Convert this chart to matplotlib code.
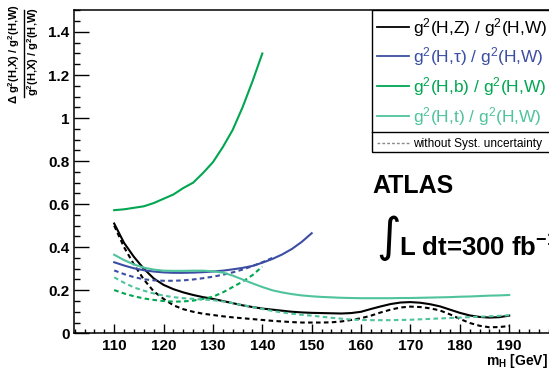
import matplotlib
matplotlib.use('Agg')
import matplotlib.pyplot as plt
from matplotlib.lines import Line2D
from matplotlib.patches import Rectangle
from matplotlib.ticker import MultipleLocator, FormatStrFormatter

plt.rcParams['font.family'] = ['Liberation Sans', 'DejaVu Sans']
plt.rcParams['mathtext.fontset'] = 'custom'
plt.rcParams['mathtext.rm'] = 'Liberation Sans'
plt.rcParams['mathtext.bf'] = 'Liberation Sans:bold'
plt.rcParams['mathtext.it'] = 'Liberation Sans:italic'

# mass points (GeV)
m_full = list(range(110, 191, 2))
m_tau = list(range(110, 151, 2))
m_tau_ns = list(range(110, 143, 2))
m_b = list(range(110, 141, 2))

# g2(H,Z)/g2(H,W)
hz = [0.51, 0.42, 0.355, 0.30, 0.255, 0.225, 0.205, 0.19, 0.178, 0.168,
      0.16, 0.15, 0.14, 0.13, 0.122, 0.115, 0.11, 0.105, 0.10, 0.097,
      0.095, 0.094, 0.093, 0.092, 0.094, 0.10, 0.113, 0.125, 0.136, 0.143,
      0.145, 0.142, 0.135, 0.125, 0.11, 0.095, 0.083, 0.076, 0.073, 0.075, 0.082]
hz_ns = [0.50, 0.40, 0.32, 0.25, 0.195, 0.16, 0.13, 0.112, 0.10, 0.091,
         0.085, 0.079, 0.074, 0.07, 0.066, 0.062, 0.058, 0.055, 0.052, 0.05,
         0.05, 0.05, 0.051, 0.055, 0.062, 0.07, 0.082, 0.097, 0.11, 0.12,
         0.124, 0.122, 0.116, 0.106, 0.088, 0.067, 0.048, 0.035, 0.028, 0.029, 0.034]

# g2(H,tau)/g2(H,W)
htau = [0.33, 0.315, 0.302, 0.293, 0.287, 0.283, 0.281, 0.281, 0.282, 0.284,
        0.287, 0.291, 0.297, 0.304, 0.313, 0.328, 0.345, 0.366, 0.392, 0.425, 0.465]
htau_ns = [0.292, 0.275, 0.261, 0.251, 0.246, 0.244, 0.244, 0.246, 0.25, 0.256,
           0.263, 0.272, 0.283, 0.296, 0.312, 0.33, 0.35]

# g2(H,b)/g2(H,W)
hb = [0.572, 0.576, 0.583, 0.59, 0.605, 0.625, 0.645, 0.675, 0.70, 0.745,
      0.795, 0.865, 0.945, 1.05, 1.17, 1.30]
hb_ns = [0.201, 0.185, 0.172, 0.162, 0.155, 0.15, 0.147, 0.148, 0.152, 0.16,
         0.17, 0.19, 0.215, 0.24, 0.27, 0.31]

# g2(H,t)/g2(H,W)
ht = [0.365, 0.34, 0.32, 0.305, 0.296, 0.291, 0.29, 0.29, 0.291, 0.291,
      0.288, 0.282, 0.268, 0.25, 0.232, 0.215, 0.2, 0.19, 0.182, 0.176,
      0.172, 0.169, 0.167, 0.165, 0.164, 0.163, 0.163, 0.163, 0.163, 0.164,
      0.164, 0.165, 0.166, 0.167, 0.168, 0.17, 0.171, 0.173, 0.175, 0.176, 0.178]
ht_ns = [0.26, 0.235, 0.213, 0.198, 0.185, 0.175, 0.168, 0.163, 0.16, 0.157,
         0.154, 0.148, 0.14, 0.131, 0.122, 0.113, 0.104, 0.097, 0.091, 0.086,
         0.082, 0.077, 0.072, 0.068, 0.064, 0.062, 0.061, 0.061, 0.061, 0.062,
         0.063, 0.065, 0.067, 0.069, 0.071, 0.073, 0.075, 0.077, 0.079, 0.081, 0.084]

c_z = '#000000'
c_tau = '#3b4ea3'
c_b = '#00a650'
c_t = '#4ec39c'

W, H = 549, 369
fig = plt.figure(figsize=(W / 100, H / 100), dpi=100)
ax = fig.add_axes([73.7 / W, 1 - 333.3 / H, 1 - 73.7 / W, (333.3 - 10) / H])

lw = 1.5
dash = (0, (2.2, 1.6))
ax.plot(m_full, hz, color=c_z, lw=lw)
ax.plot(m_full, hz_ns, color=c_z, lw=lw, ls=dash)
ax.plot(m_tau, htau, color=c_tau, lw=lw)
ax.plot(m_tau_ns, htau_ns, color=c_tau, lw=lw, ls=dash)
ax.plot(m_b, hb, color=c_b, lw=lw)
ax.plot(m_b, hb_ns, color=c_b, lw=lw, ls=dash)
ax.plot(m_full, ht, color=c_t, lw=lw)
ax.plot(m_full, ht_ns, color=c_t, lw=lw, ls=dash)

ax.set_xlim(101.8, 198.06)
ax.set_ylim(0, 1.502)
ax.xaxis.set_major_locator(MultipleLocator(10))
ax.xaxis.set_minor_locator(MultipleLocator(2))
ax.yaxis.set_major_locator(MultipleLocator(0.2))
ax.yaxis.set_minor_locator(MultipleLocator(0.05))
ax.yaxis.set_major_formatter(FormatStrFormatter('%g'))
ax.set_xticks([110, 120, 130, 140, 150, 160, 170, 180, 190])
ax.tick_params(axis='both', which='both', direction='in', width=1.0,
               labelsize=11, top=False, right=False)
ax.tick_params(axis='x', which='major', length=6.5, pad=3.8)
ax.tick_params(axis='x', which='minor', length=3.2)
ax.tick_params(axis='y', which='major', length=10.5, pad=3)
ax.tick_params(axis='y', which='minor', length=4.5)
for lab in ax.get_xticklabels() + ax.get_yticklabels():
    lab.set_fontweight('bold')
for s in ['left', 'bottom', 'top']:
    ax.spines[s].set_linewidth(1.1)
ax.spines['right'].set_visible(False)

def fx(x):
    return x / W

def fy(y):
    return 1 - y / H

# legend box
fig.patches.append(Rectangle((fx(371.7), fy(151.7)), fx(200), (151.7 - 10) / H,
                             transform=fig.transFigure, fill=False,
                             edgecolor='black', lw=1.0))
fig.lines.append(Line2D([fx(371.7), 1], [fy(131.7), fy(131.7)],
                        transform=fig.transFigure, color='black', lw=1.0))
entries = [(c_z, 'g$^{2}$(H,Z) / g$^{2}$(H,W)', 26.7),
           (c_tau, 'g$^{2}$(H,τ) / g$^{2}$(H,W)', 55.7),
           (c_b, 'g$^{2}$(H,b) / g$^{2}$(H,W)', 86),
           (c_t, 'g$^{2}$(H,t) / g$^{2}$(H,W)', 116)]
for col, txt, yy in entries:
    fig.lines.append(Line2D([fx(376.7), fx(409.3)], [fy(yy), fy(yy)],
                            transform=fig.transFigure, color=col, lw=1.3))
    fig.text(fx(412.7), fy(yy + 1), txt, color=col, fontsize=12.5,
             ha='left', va='center')
fig.lines.append(Line2D([fx(376.7), fx(409.3)], [fy(143.3), fy(143.3)],
                        transform=fig.transFigure, color='#888888', lw=1.0,
                        ls=(0, (2, 1.5))))
fig.text(fx(412.7), fy(143.8), 'without Syst. uncertainty', fontsize=8.6,
         ha='left', va='center')

# ATLAS label
fig.text(fx(372.7), fy(193.3), 'ATLAS', fontsize=18, fontweight='bold',
         ha='left', va='baseline')
fig.text(fx(376), fy(238), '∫', fontsize=34, ha='left', va='center',
         family=['DejaVu Sans'])
fig.text(fx(399.3), fy(256.7), 'L dt=300 fb$^{\\mathbf{-1}}$', fontsize=18.5,
         fontweight='bold', ha='left', va='baseline')

# axis labels
fig.text(fx(548), fy(365.5), 'm$_{\\mathbf{H}}$ [GeV]', fontsize=10,
         fontweight='bold', ha='right', va='baseline')
fig.text(fx(14), fy(54), 'Δ g$^{\\mathbf{2}}$(H,X) / g$^{\\mathbf{2}}$(H,W)',
         fontsize=8, fontweight='bold', rotation=90, ha='center', va='center')
fig.lines.append(Line2D([fx(24), fx(24)], [fy(97), fy(10)],
                        transform=fig.transFigure, color='black', lw=1.0))
fig.text(fx(33), fy(52), 'g$^{\\mathbf{2}}$(H,X) / g$^{\\mathbf{2}}$(H,W)',
         fontsize=8, fontweight='bold', rotation=90, ha='center', va='center')

fig.savefig('out.png', dpi=100)
